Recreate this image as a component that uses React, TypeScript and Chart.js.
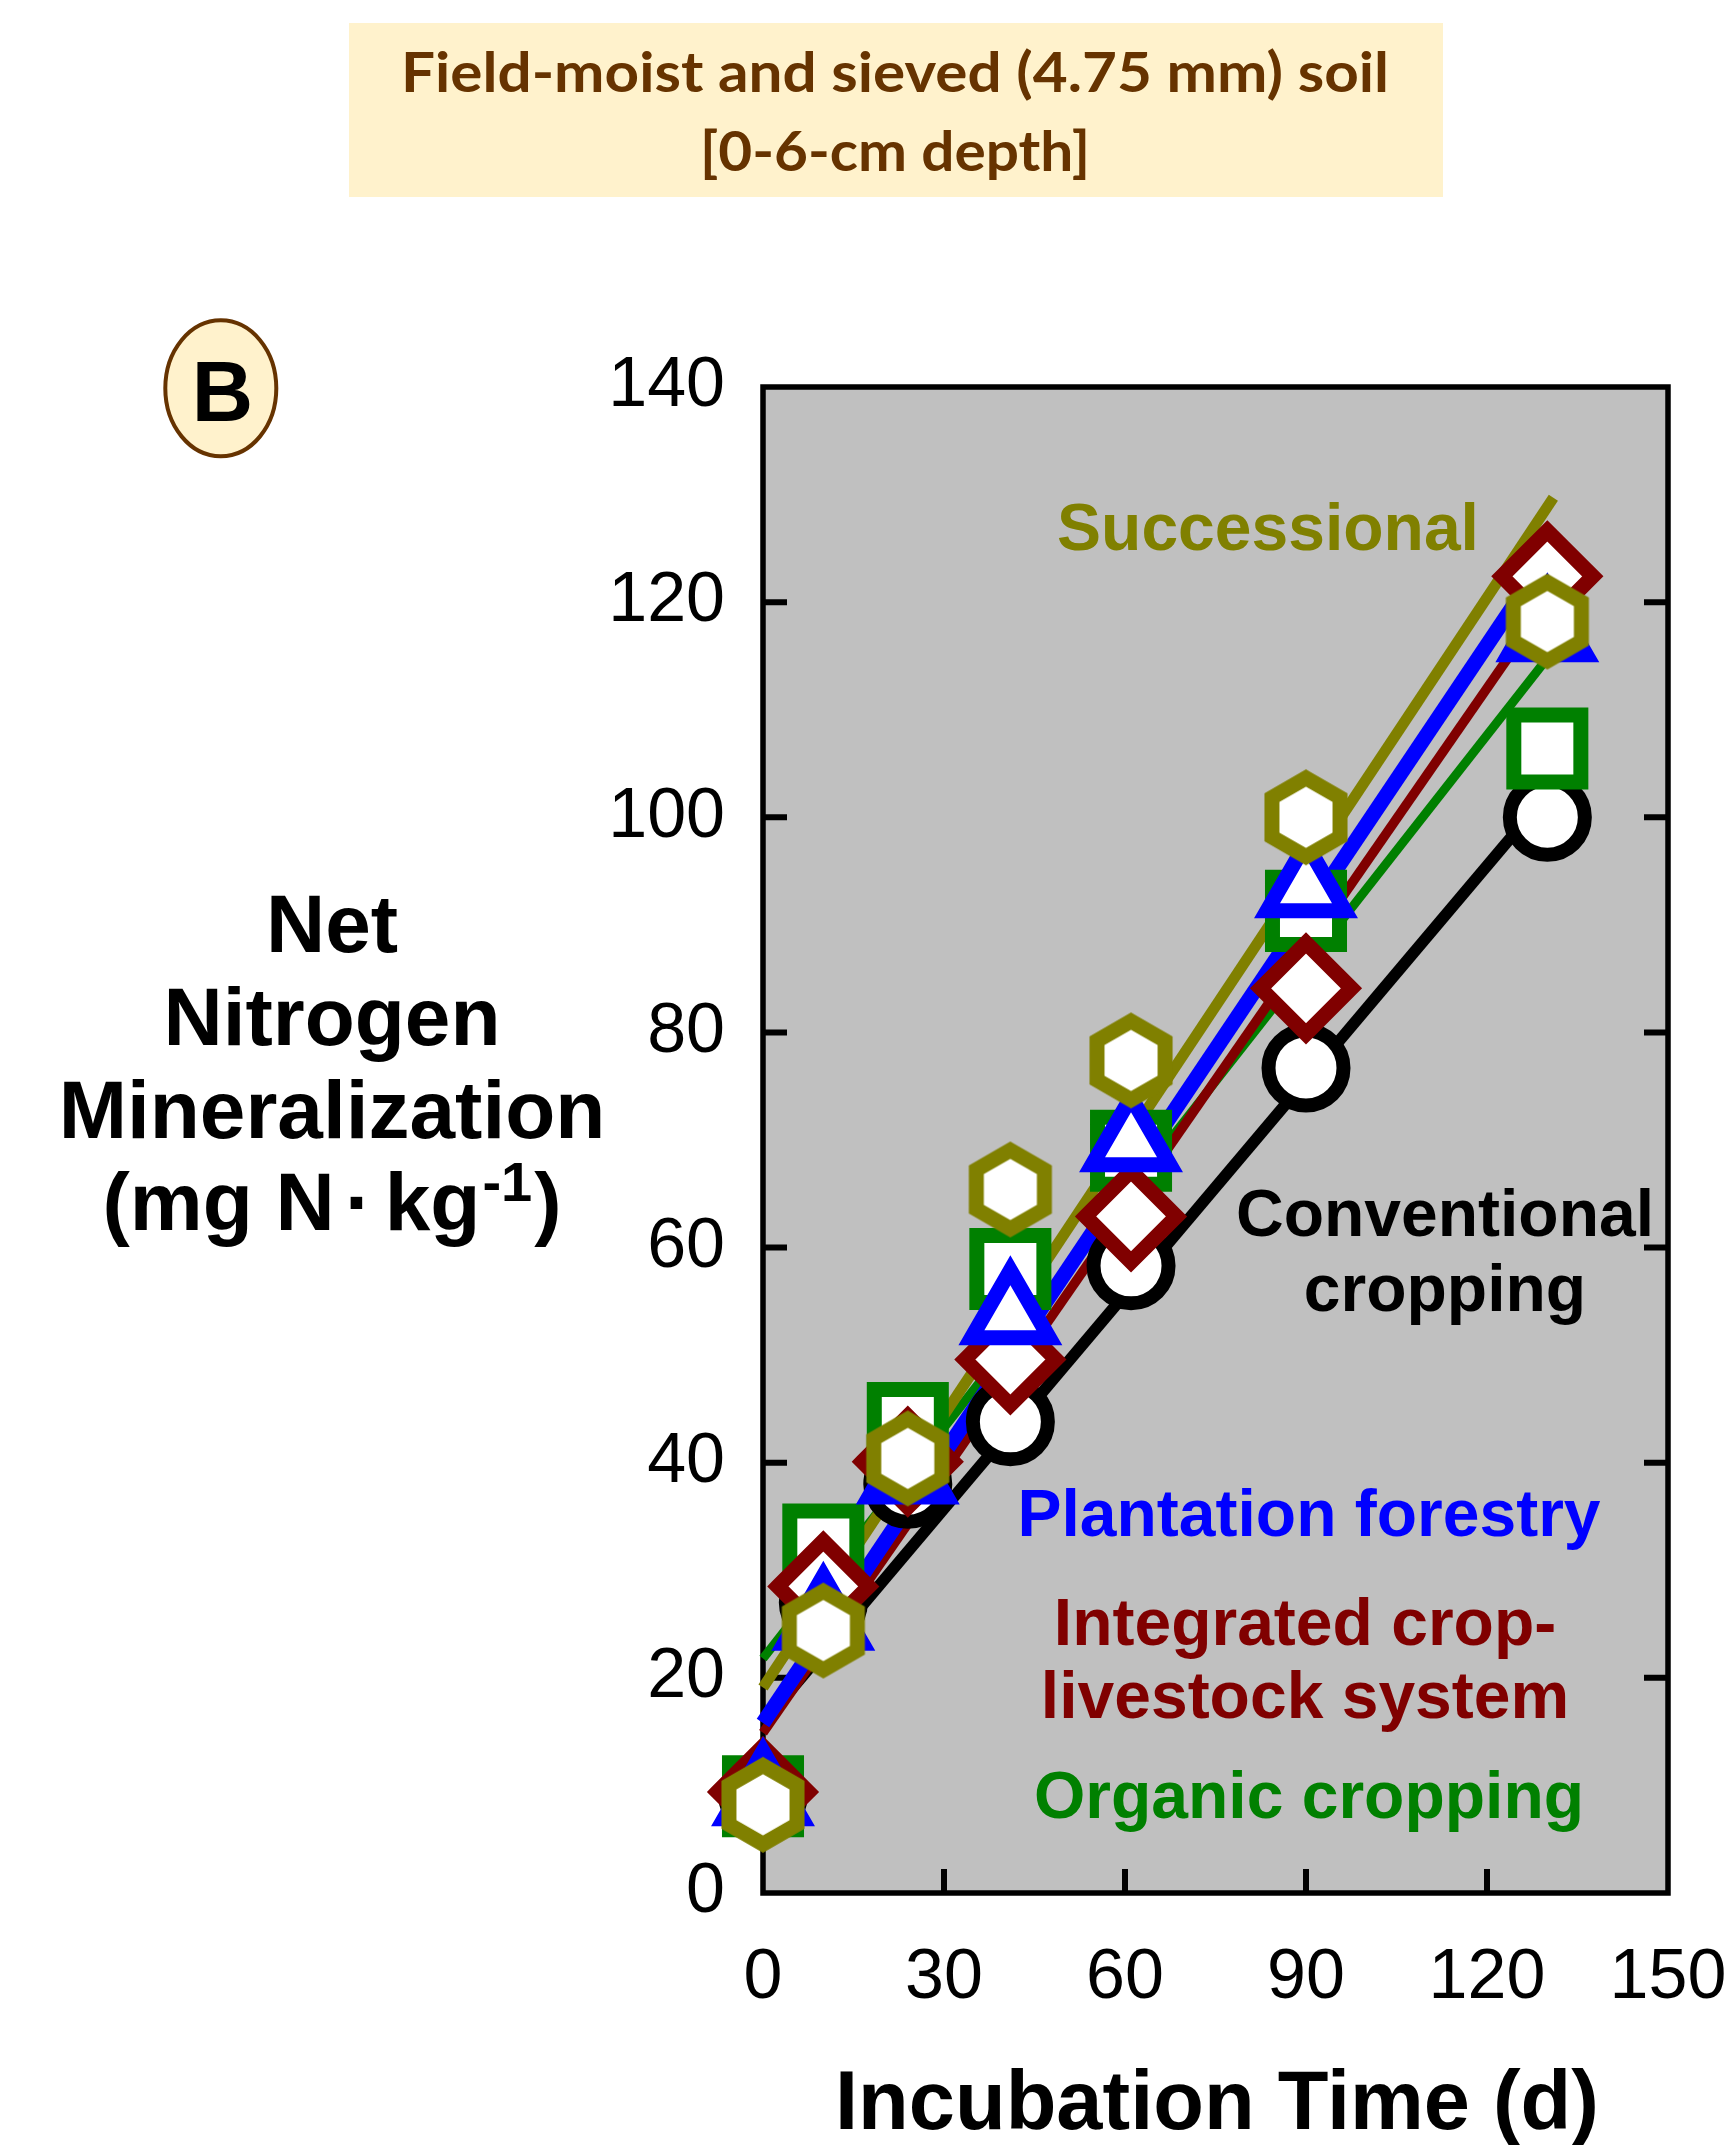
import React, { useEffect, useRef } from "react";
import { Chart, registerables } from "chart.js";

Chart.register(...registerables);

// ---- data ----
const days = [0, 10, 24, 41, 61, 90, 130];
const conventional = [9, 27, 38, 43.8, 58.3, 76.7, 100];
const organic = [9, 32.4, 43.7, 58, 69, 91.3, 106.4];
const plantation = [9, 25.3, 38.9, 53.7, 69.8, 93.4, 117.2];
const integrated = [9.4, 28.5, 40.1, 49.6, 62.9, 84.1, 122.4];
const successional = [8.2, 24.4, 40.4, 65.4, 77.4, 100, 118.2];

// fitted regression lines (end points)
const fitDays = [0, 131];
const conventionalFit = [15.8, 102.8];
const organicFit = [21.8, 115.5];
const plantationFit = [15.8, 125.2];
const integratedFit = [14.9, 120.9];
const successionalFit = [19.1, 129.7];

const xTicks = [0, 30, 60, 90, 120, 150];
const yTicks = [0, 20, 40, 60, 80, 100, 120, 140];

const W = 1736;
const H = 2145;
const TICK_FONT = "Liberation Sans, Arial, sans-serif";

function makeHexagon(color: string): HTMLCanvasElement {
  const c = document.createElement("canvas");
  c.width = 120;
  c.height = 120;
  const ctx = c.getContext("2d")!;
  const R = 39.3;
  ctx.beginPath();
  for (let i = 0; i < 6; i++) {
    const a = -Math.PI / 2 + (i * Math.PI) / 3;
    const px = 60 + R * Math.cos(a);
    const py = 60 + R * Math.sin(a);
    if (i === 0) ctx.moveTo(px, py);
    else ctx.lineTo(px, py);
  }
  ctx.closePath();
  ctx.fillStyle = "#ffffff";
  ctx.fill();
  ctx.lineWidth = 15;
  ctx.lineJoin = "miter";
  ctx.strokeStyle = color;
  ctx.stroke();
  return c;
}

function stretchText(
  ctx: CanvasRenderingContext2D,
  text: string,
  cx: number,
  baseline: number,
  targetWidth: number
) {
  const w = ctx.measureText(text).width;
  const sx = targetWidth / w;
  ctx.save();
  ctx.translate(cx, baseline);
  ctx.scale(sx, 1);
  ctx.textAlign = "center";
  ctx.textBaseline = "alphabetic";
  ctx.fillText(text, 0, 0);
  ctx.restore();
}

const framePlugin = {
  id: "frame",
  beforeDraw(chart: any) {
    const { ctx, chartArea } = chart;
    ctx.save();
    ctx.fillStyle = "#ffffff";
    ctx.fillRect(0, 0, W, H);
    ctx.fillStyle = "#C0C0C0";
    ctx.fillRect(
      chartArea.left,
      chartArea.top,
      chartArea.right - chartArea.left,
      chartArea.bottom - chartArea.top
    );
    ctx.restore();
  },
  beforeDatasetsDraw(chart: any) {
    const { ctx, chartArea, scales } = chart;
    const { left, right, top, bottom } = chartArea;
    ctx.save();
    ctx.strokeStyle = "#000000";
    ctx.lineWidth = 5.5;
    ctx.lineJoin = "miter";
    ctx.strokeRect(left, top, right - left, bottom - top);
    ctx.lineWidth = 6;
    ctx.lineCap = "butt";
    const tl = 24;
    ctx.beginPath();
    for (const v of yTicks) {
      const py = scales.y.getPixelForValue(v);
      if (v === yTicks[0] || v === yTicks[yTicks.length - 1]) continue;
      ctx.moveTo(left, py);
      ctx.lineTo(left + tl, py);
      ctx.moveTo(right, py);
      ctx.lineTo(right - tl, py);
    }
    for (const v of xTicks) {
      if (v === xTicks[0] || v === xTicks[xTicks.length - 1]) continue;
      const px = scales.x.getPixelForValue(v);
      ctx.moveTo(px, bottom);
      ctx.lineTo(px, bottom - tl);
    }
    ctx.stroke();
    ctx.restore();
  },
  afterDatasetsDraw(chart: any) {
    const { ctx } = chart;
    ctx.save();
    ctx.textAlign = "center";
    ctx.textBaseline = "alphabetic";
    ctx.font = `bold 66px ${TICK_FONT}`;
    const labels: [string, string, number, number][] = [
      ["Successional", "#808000", 1268, 550],
      ["Conventional", "#000000", 1445, 1236],
      ["cropping", "#000000", 1445, 1311],
      ["Plantation forestry", "#0000FF", 1309, 1536],
      ["Integrated crop-", "#800000", 1305, 1645],
      ["livestock system", "#800000", 1305, 1718],
      ["Organic cropping", "#008000", 1309, 1818],
    ];
    for (const [t, c, x, y] of labels) {
      ctx.fillStyle = c;
      ctx.fillText(t, x, y);
    }
    ctx.restore();
  },
  afterDraw(chart: any) {
    const { ctx } = chart;
    ctx.save();
    // title box
    ctx.fillStyle = "#FFF2CC";
    ctx.fillRect(349, 23, 1094, 174);
    ctx.fillStyle = "#663300";
    ctx.font = "bold 56px Lato, 'Open Sans', sans-serif";
    stretchText(ctx, "Field-moist and sieved (4.75 mm) soil", 895, 92, 988);
    stretchText(ctx, "[0-6-cm depth]", 895, 171, 390);

    // B badge
    ctx.beginPath();
    ctx.ellipse(220.8, 388.3, 55.5, 68, 0, 0, Math.PI * 2);
    ctx.fillStyle = "#FFF2CC";
    ctx.fill();
    ctx.lineWidth = 4;
    ctx.strokeStyle = "#663300";
    ctx.stroke();
    ctx.fillStyle = "#000000";
    ctx.font = `bold 85px ${TICK_FONT}`;
    ctx.textAlign = "center";
    ctx.textBaseline = "alphabetic";
    ctx.fillText("B", 222.5, 420.7);

    // y-axis title
    ctx.font = `bold 82px ${TICK_FONT}`;
    const cx = 332;
    ctx.fillText("Net", cx, 952);
    ctx.fillText("Nitrogen", cx, 1045);
    ctx.fillText("Mineralization", cx, 1138);
    const base = 1230;
    const p1 = "(mg N";
    const pk = "kg";
    const pc = ")";
    const w1 = ctx.measureText(p1).width;
    const wk = ctx.measureText(pk).width;
    const wc = ctx.measureText(pc).width;
    ctx.font = `bold 56px ${TICK_FONT}`;
    const ws = ctx.measureText("-1").width;
    const dotGap = 24;
    const kGap = 50;
    const total = w1 + kGap + wk + 2 + ws + 2 + wc;
    const x0 = cx - total / 2;
    ctx.textAlign = "left";
    ctx.font = `bold 82px ${TICK_FONT}`;
    ctx.fillText(p1, x0, base);
    ctx.textAlign = "center";
    ctx.fillText("\u00B7", x0 + w1 + dotGap, base);
    ctx.textAlign = "left";
    const xk = x0 + w1 + kGap;
    ctx.fillText(pk, xk, base);
    ctx.font = `bold 56px ${TICK_FONT}`;
    const xs = xk + wk + 2;
    ctx.fillText("-1", xs, base - 29);
    ctx.font = `bold 82px ${TICK_FONT}`;
    ctx.fillText(pc, xs + ws + 2, base);

    // x-axis title
    ctx.textAlign = "center";
    ctx.font = `bold 83px ${TICK_FONT}`;
    ctx.fillText("Incubation Time (d)", 1217, 2129);
    ctx.restore();
  },
};

type Series = {
  label: string;
  values: number[];
  fit: number[];
  color: string;
  style: any;
  radius: number;
  border: number;
  lineWidth: number;
};

export default function App() {
  const ref = useRef<HTMLCanvasElement | null>(null);

  useEffect(() => {
    if (!ref.current) return;
    const series: Series[] = [
      { label: "Successional", values: successional, fit: successionalFit, color: "#808000", style: makeHexagon("#808000"), radius: 45, border: 0, lineWidth: 11 },
      { label: "Plantation forestry", values: plantation, fit: plantationFit, color: "#0000FF", style: "triangle", radius: 45, border: 15, lineWidth: 15 },
      { label: "Integrated crop-livestock system", values: integrated, fit: integratedFit, color: "#800000", style: "rectRot", radius: 45.5, border: 15, lineWidth: 9.5 },
      { label: "Organic cropping", values: organic, fit: organicFit, color: "#008000", style: "rect", radius: 47.4, border: 15, lineWidth: 9 },
      { label: "Conventional cropping", values: conventional, fit: conventionalFit, color: "#000000", style: "circle", radius: 37.5, border: 14, lineWidth: 11.5 },
    ];

    const datasets: any[] = [];
    series.forEach((s, i) => {
      datasets.push({
        label: s.label,
        data: days.map((d, j) => ({ x: d, y: s.values[j] })),
        showLine: false,
        pointStyle: s.style,
        pointRadius: s.radius,
        pointBorderWidth: s.border,
        pointBackgroundColor: "#ffffff",
        pointBorderColor: s.color,
        clip: false,
        order: i + 1,
      });
    });
    series.forEach((s, i) => {
      datasets.push({
        label: s.label + " fit",
        data: fitDays.map((d, j) => ({ x: d, y: s.fit[j] })),
        showLine: true,
        pointRadius: 0,
        borderColor: s.color,
        borderWidth: s.lineWidth,
        borderCapStyle: "butt",
        fill: false,
        tension: 0,
        clip: false,
        order: 11 + i,
      });
    });

    const chart = new Chart(ref.current, {
      type: "scatter",
      data: { datasets },
      plugins: [framePlugin],
      options: {
        responsive: false,
        animation: false,
        devicePixelRatio: 1,
        events: [],
        layout: { padding: { top: 387, right: 68, left: 0, bottom: 0 } },
        plugins: {
          legend: { display: false },
          tooltip: { enabled: false },
          title: { display: false },
        },
        scales: {
          x: {
            type: "linear",
            position: "bottom",
            min: 0,
            max: 150,
            grid: { display: false, drawTicks: false },
            border: { display: false },
            ticks: {
              font: { family: TICK_FONT, size: 70, lineHeight: 1.2 },
              color: "#000000",
              padding: 44,
              maxRotation: 0,
              autoSkip: false,
            },
            afterBuildTicks: (scale: any) => {
              scale.ticks = xTicks.map((v) => ({ value: v }));
            },
            afterFit: (scale: any) => {
              scale.height = H - 1893;
              scale.paddingLeft = 0;
              scale.paddingRight = 0;
            },
          },
          y: {
            type: "linear",
            position: "left",
            min: 0,
            max: 140,
            grid: { display: false, drawTicks: false },
            border: { display: false },
            ticks: {
              font: { family: TICK_FONT, size: 70, lineHeight: 1.2 },
              color: "#000000",
              padding: 38,
              autoSkip: false,
            },
            afterBuildTicks: (scale: any) => {
              scale.ticks = yTicks.map((v) => ({ value: v }));
            },
            afterFit: (scale: any) => {
              scale.width = 763;
              scale.paddingTop = 0;
              scale.paddingBottom = 0;
            },
          },
        },
      } as any,
    });
    return () => chart.destroy();
  }, []);

  return (
    <div style={{ position: "absolute", left: 0, top: 0, width: W, height: H, background: "#fff" }}>
      <canvas ref={ref} width={W} height={H} style={{ width: W, height: H, display: "block" }} />
    </div>
  );
}
